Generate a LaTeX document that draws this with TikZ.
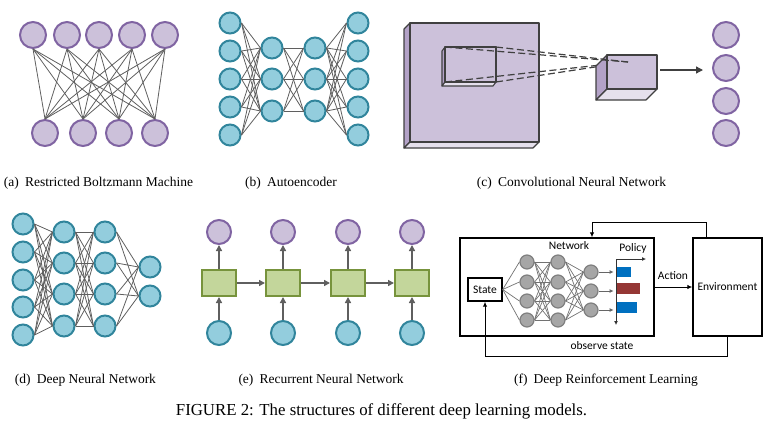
\documentclass[tikz,border=0pt]{standalone}
\usepackage{fontspec}
\setmainfont{Liberation Serif}
\newfontfamily\drlfont{Carlito}
\usetikzlibrary{arrows.meta}
\definecolor{pfill}{HTML}{CCC1DA}
\definecolor{pdraw}{HTML}{8064A2}
\definecolor{tfill}{HTML}{93CDDD}
\definecolor{tdraw}{HTML}{31859C}
\definecolor{lgray}{HTML}{5F5F5F}
\definecolor{gfill}{HTML}{C3D69B}
\definecolor{gdraw}{HTML}{77933C}
\definecolor{cfront}{HTML}{CCC1DA}
\definecolor{cside}{HTML}{B3A2C7}
\definecolor{cbottom}{HTML}{E5E0EC}
\definecolor{cline}{HTML}{404040}
\definecolor{nfill}{HTML}{A6A6A6}
\definecolor{ndraw}{HTML}{7F7F7F}
\definecolor{barblue}{HTML}{0070C0}
\definecolor{barred}{HTML}{953735}
\begin{document}
\begin{tikzpicture}[x=1pt,y=-1pt,
  pnode/.style={circle,fill=pfill,draw=pdraw,line width=2pt,minimum size=26pt,inner sep=0pt},
  psmall/.style={pnode,minimum size=24pt},
  tnode/.style={circle,fill=tfill,draw=tdraw,line width=2pt,minimum size=21pt,inner sep=0pt},
  tbig/.style={tnode,minimum size=24pt},
  conn/.style={draw=lgray,line width=0.8pt},
  rnnbox/.style={rectangle,fill=gfill,draw=gdraw,line width=2pt,minimum width=34pt,minimum height=26pt,inner sep=0pt},
  rarrow/.style={draw=lgray,line width=1.5pt,-{Triangle[length=6pt,width=6pt]}},
  gnode/.style={circle,fill=nfill,draw=ndraw,line width=1.2pt,minimum size=14pt,inner sep=0pt},
  gconn/.style={draw=ndraw!90!black,line width=0.7pt},
  box/.style={draw=black,line width=1.3pt,inner sep=0pt},
  barrow/.style={draw=black,line width=1pt,-{Latex[length=5pt,width=4.5pt]}},
  dtext/.style={font=\drlfont\fontsize{11.5}{13}\selectfont},
  captext/.style={font=\fontsize{13.5}{16}\selectfont},
  dashln/.style={draw=cline,line width=1.2pt,dash pattern=on 7pt off 3.5pt},
  face/.style={draw=cline,line width=1.1pt,line join=round}
]
\useasboundingbox (0,0) rectangle (769,437);

% ---------- (a) RBM ----------
\foreach \x [count=\i] in {33,67,99,132,165} \node[pnode] (rt\i) at (\x,35) {};
\foreach \x [count=\i] in {45,83,119,155} \node[pnode] (rb\i) at (\x,133) {};
\foreach \i in {1,...,5} \foreach \j in {1,...,4} \draw[conn] (rt\i.south) -- (rb\j.north);
\node[captext] (capa) at (98.5,183) {(a)\hspace{0.45em}Restricted Boltzmann Machine};

% ---------- (b) Autoencoder ----------
\foreach \y [count=\i] in {23,51,79,107,135} {
  \node[tnode] (ae1\i) at (230,\y) {};
  \node[tnode] (ae4\i) at (358,\y) {};
}
\foreach \y [count=\i] in {48,79,111} {
  \node[tnode] (ae2\i) at (272,\y) {};
  \node[tnode] (ae3\i) at (315,\y) {};
}
\foreach \i in {1,...,5} \foreach \j in {1,...,3} {
  \draw[conn] (ae1\i.east) -- (ae2\j.west);
  \draw[conn] (ae3\j.east) -- (ae4\i.west);
}
\foreach \i in {1,...,3} \foreach \j in {1,...,3} \draw[conn] (ae2\i.east) -- (ae3\j.west);
\node[captext] (capb) at (291,183) {(b)\hspace{0.45em}Autoencoder};

% ---------- (c) CNN ----------
% big input plane
\filldraw[face,fill=cside] (410,23) -- (404,29) -- (404,148) -- (410,142) -- cycle;
\filldraw[face,fill=cbottom] (404,148) -- (533,148) -- (539,142) -- (410,142) -- cycle;
\filldraw[face,fill=cfront] (410,23) rectangle (539,142);
% receptive field
\filldraw[face,fill=cside] (445,47) -- (442,51) -- (442,86) -- (445,82) -- cycle;
\filldraw[face,fill=cbottom] (442,86) -- (493,86) -- (496,82) -- (445,82) -- cycle;
\filldraw[face,fill=cfront] (445,47) rectangle (496,82);
\coordinate (focus) at (628,62);
\draw[dashln] (445,82) -- (focus);
\draw[dashln] (496,82) -- (focus);
% feature cube
\filldraw[face,fill=cside] (607,55) -- (596,66) -- (596,100) -- (607,89) -- cycle;
\filldraw[face,fill=cbottom] (596,100) -- (646,100) -- (657,89) -- (607,89) -- cycle;
\filldraw[face,fill=cfront] (607,55) rectangle (657,89);
\draw[dashln] (445,47) -- (focus);
\draw[dashln] (496,47) -- (focus);
\foreach \y [count=\i] in {35,68,101,133} \node[pnode] (co\i) at (726,\y) {};
\coordinate (cnnA) at (660,70);
\coordinate (cnnB) at (703,70);
\draw[draw=cline,line width=1.3pt,-{Triangle[length=7pt,width=7pt]}] (cnnA) -- (cnnB);
\node[captext] (capc) at (571.5,183) {(c)\hspace{0.45em}Convolutional Neural Network};

% ---------- (d) DNN ----------
\foreach \y [count=\i] in {224,252,280,307,335} \node[tnode] (dn1\i) at (23,\y) {};
\foreach \y [count=\i] in {232,263,294,326} {
  \node[tnode] (dn2\i) at (64,\y) {};
  \node[tnode] (dn3\i) at (105,\y) {};
}
\foreach \y [count=\i] in {267,296} \node[tnode] (dn4\i) at (150,\y) {};
\foreach \i in {1,...,5} \foreach \j in {1,...,4} \draw[conn] (dn1\i.east) -- (dn2\j.west);
\foreach \i in {1,...,4} \foreach \j in {1,...,4} \draw[conn] (dn2\i.east) -- (dn3\j.west);
\foreach \i in {1,...,4} \foreach \j in {1,...,2} \draw[conn] (dn3\i.east) -- (dn4\j.west);
\node[captext] (capd) at (85.5,380) {(d)\hspace{0.45em}Deep Neural Network};

% ---------- (e) RNN ----------
\foreach \x [count=\i] in {219,283,348,412} {
  \node[psmall] (ro\i) at (\x,232) {};
  \node[rnnbox] (rh\i) at (\x,283) {};
  \node[tbig] (ri\i) at (\x,333) {};
}
\foreach \i in {1,...,4} {
  \draw[rarrow] (ri\i) -- (rh\i);
  \draw[rarrow] (rh\i) -- (ro\i);
}
\foreach \i/\j in {1/2,2/3,3/4} \draw[rarrow] (rh\i) -- (rh\j);
\node[captext] (cape) at (321,380) {(e)\hspace{0.45em}Recurrent Neural Network};

% ---------- (f) DRL ----------
\node[box,minimum width=194pt,minimum height=98pt] (agent) at (557,287) {};
\node[box,dtext,minimum width=69pt,minimum height=98pt] (env) at (727.5,287) {Environment};
\node[box,dtext,line width=1.4pt,minimum width=34pt,minimum height=23pt] (state) at (485,289.5) {State};
\foreach \y [count=\i] in {262,282,301,320} {
  \node[gnode] (g1\i) at (527,\y) {};
  \node[gnode] (g2\i) at (558,\y) {};
}
\foreach \y [count=\i] in {272,291,310} \node[gnode] (g3\i) at (591,\y) {};
\foreach \i in {1,...,4} \draw[gconn] (state.east) -- (g1\i.west);
\foreach \i in {1,...,4} \foreach \j in {1,...,4} \draw[gconn] (g1\i.east) -- (g2\j.west);
\foreach \i in {1,...,4} \foreach \j in {1,...,3} \draw[gconn] (g2\i.east) -- (g3\j.west);
\foreach \i in {1,...,3} \draw[draw=ndraw!80!black,line width=1pt,-{Latex[length=4pt,width=4pt]}] (g3\i.east) -- ++(15,0);
\fill[barblue] (616,267) rectangle (631,277);
\fill[barred] (616,283) rectangle (640,294);
\fill[barblue] (616,302) rectangle (637,313);
\coordinate (ax0) at (616,259);
\coordinate (axx) at (646,259);
\coordinate (axy) at (616,325);
\draw[draw=black!80,line width=1pt,-{Latex[length=4pt,width=4pt]}] (ax0) -- (axx);
\draw[draw=black!80,line width=1pt,-{Latex[length=4pt,width=4pt]}] (ax0) -- (axy);
\node[dtext] (netlbl) at (569,246) {Network};
\node[dtext] (pollbl) at (633,248) {Policy};
\draw[barrow] (agent.east) -- (env.west);
\node[dtext] (actlbl) at (673,276) {Action};
\coordinate (fbr) at (706,222);
\coordinate (fbl) at (592,222);
\draw[barrow] (env.north -| fbr) -- (fbr) -- (fbl) -- (agent.north -| fbl);
\coordinate (obr) at (727.5,356);
\coordinate (obl) at (485,356);
\draw[barrow] (env.south) -- (obr) -- (obl) -- (state.south);
\node[dtext] (obslbl) at (602,346) {observe state};
\node[captext] (capf) at (606,380) {(f)\hspace{0.45em}Deep Reinforcement Learning};

% ---------- figure caption ----------
\node[font=\fontsize{16.8}{19}\selectfont] (figcap) at (381.5,411) {FIGURE 2: The structures of different deep learning models.};
\end{tikzpicture}
\end{document}
